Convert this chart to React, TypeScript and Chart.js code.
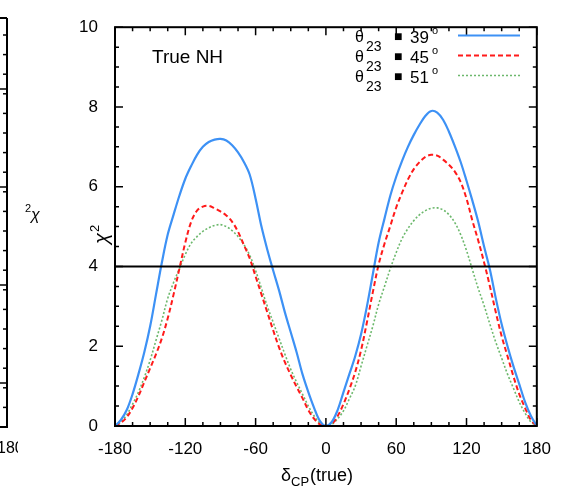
import React, { useEffect, useRef } from 'react';
import { Chart, registerables } from 'chart.js';

Chart.register(...registerables);

// δCP(true) grid in degrees
const DELTA: number[] = [
  -180, -175, -170, -165, -160, -155, -150, -145, -140, -135, -130, -125, -120,
  -115, -110, -105, -100, -95, -90, -85, -80, -75, -70, -65, -60, -55, -50, -45,
  -40, -35, -30, -25, -20, -15, -10, -5, 0, 5, 10, 15, 20, 25, 30, 35, 40, 45,
  50, 55, 60, 65, 70, 75, 80, 85, 90, 95, 100, 105, 110, 115, 120, 125, 130,
  135, 140, 145, 150, 155, 160, 165, 170, 175, 180,
];

// chi^2 for theta23 = 39°
const CHI2_39: number[] = [
  0, 0.15, 0.4, 0.8, 1.3, 1.85, 2.5, 3.3, 4.1, 4.8, 5.3, 5.78, 6.2,
  6.52, 6.8, 7.0, 7.12, 7.18, 7.2, 7.16, 7.04, 6.86, 6.62, 6.3, 5.7, 5.0, 4.42, 3.9,
  3.4, 2.85, 2.35, 1.85, 1.3, 0.85, 0.45, 0.12, 0, 0.1, 0.4, 0.85, 1.3, 1.75, 2.3, 3.0, 3.8, 4.6,
  5.2, 5.78, 6.25, 6.65, 7.0, 7.3, 7.56, 7.78, 7.9, 7.86, 7.68, 7.38, 7.02, 6.62, 6.15, 5.65, 5.12,
  4.5, 3.92, 3.2, 2.55, 2.0, 1.5, 1.05, 0.6, 0.25, 0,
];

// chi^2 for theta23 = 45°
const CHI2_45: number[] = [
  0, 0.08, 0.22, 0.45, 0.75, 1.1, 1.45, 1.8, 2.2, 2.7, 3.3, 3.95, 4.6,
  5.12, 5.4, 5.5, 5.52, 5.46, 5.38, 5.28, 5.12, 4.87, 4.54, 4.2, 3.75, 3.3, 2.85, 2.4,
  1.97, 1.6, 1.28, 0.98, 0.7, 0.4, 0.18, 0.04, 0, 0.05, 0.25, 0.55, 0.92, 1.35, 1.9, 2.6, 3.35, 4.05,
  4.57, 5.02, 5.48, 5.85, 6.18, 6.44, 6.62, 6.75, 6.8, 6.78, 6.68, 6.55, 6.38, 6.12, 5.7, 5.15, 4.65,
  4.1, 3.5, 2.85, 2.25, 1.75, 1.25, 0.8, 0.45, 0.15, 0,
];

// chi^2 for theta23 = 51°
const CHI2_51: number[] = [
  0, 0.1, 0.28, 0.55, 0.85, 1.22, 1.65, 2.15, 2.65, 3.2, 3.6, 3.95, 4.3,
  4.58, 4.75, 4.88, 4.97, 5.03, 5.05, 5.0, 4.9, 4.75, 4.55, 4.28, 3.9, 3.45, 3.0, 2.6,
  2.2, 1.8, 1.42, 1.1, 0.8, 0.5, 0.25, 0.07, 0, 0.04, 0.18, 0.38, 0.68, 1.0, 1.5, 2.0, 2.5, 3.05,
  3.5, 3.95, 4.35, 4.7, 4.95, 5.15, 5.3, 5.4, 5.46, 5.47, 5.42, 5.3, 5.1, 4.8, 4.4, 3.92, 3.45,
  3.02, 2.55, 2.1, 1.7, 1.3, 0.95, 0.6, 0.32, 0.1, 0,
];

const THRESHOLD = 4;
const X_RANGE = [-180, 180];
const Y_RANGE = [0, 10];
const THETA_LABELS = ['39', '45', '51'];
const SERIES_COLORS = ['#3d91f5', '#ff1a1a', '#6cb86c'];
const SERIES_DASH: number[][] = [[], [5, 3], [2, 2]];
const SERIES_WIDTH = [2.2, 2, 1.6];

const FONT = '"Liberation Sans", Arial, sans-serif';

const toPoints = (ys: number[]) => DELTA.map((x, i) => ({ x, y: ys[i] }));

const decorPlugin = {
  id: 'decor',
  afterDraw(chart: any) {
    const { ctx, chartArea: a, scales } = chart;
    const xs = scales.x;
    const ys = scales.y;
    ctx.save();
    ctx.strokeStyle = '#000';
    ctx.fillStyle = '#000';

    // frame
    ctx.lineWidth = 2;
    ctx.strokeRect(a.left, a.top, a.right - a.left, a.bottom - a.top);

    // x ticks (inward, bottom and top)
    ctx.lineWidth = 1.5;
    for (let v = X_RANGE[0]; v <= X_RANGE[1]; v += 15) {
      const px = xs.getPixelForValue(v);
      const len = v % 60 === 0 ? 8 : 4;
      ctx.beginPath();
      ctx.moveTo(px, a.bottom);
      ctx.lineTo(px, a.bottom - len);
      ctx.moveTo(px, a.top);
      ctx.lineTo(px, a.top + len);
      ctx.stroke();
    }
    // y ticks (inward, left and right)
    for (let v = Y_RANGE[0]; v <= Y_RANGE[1] + 1e-9; v += 0.5) {
      const py = ys.getPixelForValue(v);
      const len = Math.abs(v % 2) < 1e-9 ? 8 : 4;
      ctx.beginPath();
      ctx.moveTo(a.left, py);
      ctx.lineTo(a.left + len, py);
      ctx.moveTo(a.right, py);
      ctx.lineTo(a.right - len, py);
      ctx.stroke();
    }

    // "True NH"
    ctx.font = `19px ${FONT}`;
    ctx.textBaseline = 'alphabetic';
    ctx.textAlign = 'left';
    ctx.fillText('True NH', 152, 63);

    // legend
    for (let i = 0; i < THETA_LABELS.length; i++) {
      const cy = 37 + i * 20;
      ctx.fillStyle = '#000';
      ctx.font = `16px ${FONT}`;
      ctx.fillText('θ', 355, cy + 5);
      ctx.font = `14px ${FONT}`;
      ctx.fillText('23', 366, cy + 14);
      ctx.font = `14px ${FONT}`;
      ctx.fillText('■', 394, cy + 4);
      ctx.font = `17px ${FONT}`;
      ctx.fillText(THETA_LABELS[i], 410, cy + 6);
      ctx.font = `11px ${FONT}`;
      ctx.fillText('o', 432, cy - 3);
      ctx.strokeStyle = SERIES_COLORS[i];
      ctx.lineWidth = SERIES_WIDTH[i];
      ctx.setLineDash(SERIES_DASH[i]);
      ctx.beginPath();
      ctx.moveTo(458, cy - 1.5);
      ctx.lineTo(520, cy - 1.5);
      ctx.stroke();
      ctx.setLineDash([]);
    }

    // x-axis title
    ctx.fillStyle = '#000';
    ctx.font = `18px ${FONT}`;
    ctx.fillText('δ', 281, 481);
    ctx.font = `13px ${FONT}`;
    ctx.fillText('CP', 291, 486);
    ctx.font = `18px ${FONT}`;
    ctx.fillText('(true)', 310, 481);

    // y-axis title (rotated)
    ctx.save();
    ctx.translate(108, 244);
    ctx.rotate(-Math.PI / 2);
    ctx.font = `italic 20px ${FONT}`;
    ctx.fillText('χ', 0, 0);
    ctx.font = `13px ${FONT}`;
    ctx.fillText('2', 12, -9);
    ctx.restore();

    // fragment of neighbouring panel at far left
    ctx.strokeStyle = '#000';
    ctx.lineWidth = 2;
    ctx.beginPath();
    ctx.moveTo(7, 18);
    ctx.lineTo(7, 427);
    ctx.lineTo(0, 427);
    ctx.moveTo(7, 18);
    ctx.lineTo(0, 18);
    ctx.stroke();
    ctx.lineWidth = 1.5;
    for (let py = 427; py > 20; py -= 19.6) {
      ctx.beginPath();
      ctx.moveTo(7, py);
      ctx.lineTo(3, py);
      ctx.stroke();
    }
    for (let py = 383; py > 20; py -= 98) {
      ctx.beginPath();
      ctx.moveTo(7, py);
      ctx.lineTo(0, py);
      ctx.stroke();
    }
    ctx.save();
    ctx.beginPath();
    ctx.rect(0, 430, 18, 30);
    ctx.clip();
    ctx.font = `16px ${FONT}`;
    ctx.fillText('180', -3, 453);
    ctx.restore();
    ctx.font = `italic 16px ${FONT}`;
    ctx.fillText('χ', 31, 220);
    ctx.font = `11px ${FONT}`;
    ctx.fillText('2', 25, 212);

    ctx.restore();
  },
};

export default function App() {
  const ref = useRef<HTMLCanvasElement>(null);

  useEffect(() => {
    if (!ref.current) return;
    const mk = (label: string, data: number[], i: number) => ({
      label,
      data: toPoints(data),
      borderColor: SERIES_COLORS[i],
      borderWidth: SERIES_WIDTH[i],
      borderDash: SERIES_DASH[i],
      pointRadius: 0,
      fill: false,
      tension: 0.35,
      order: i + 1,
    });
    const chart = new Chart(ref.current, {
      type: 'line',
      data: {
        datasets: [
          {
            label: 'threshold',
            data: [
              { x: X_RANGE[0], y: THRESHOLD },
              { x: X_RANGE[1], y: THRESHOLD },
            ],
            borderColor: '#000',
            borderWidth: 2,
            pointRadius: 0,
            fill: false,
            order: 0,
          },
          mk('θ23 = 39°', CHI2_39, 0),
          mk('θ23 = 45°', CHI2_45, 1),
          mk('θ23 = 51°', CHI2_51, 2),
        ] as any,
      },
      options: {
        animation: false,
        responsive: false,
        maintainAspectRatio: false,
        layout: { padding: { left: 0, top: 16, right: 19, bottom: 0 } },
        plugins: { legend: { display: false }, tooltip: { enabled: false } },
        scales: {
          x: {
            type: 'linear',
            min: X_RANGE[0],
            max: X_RANGE[1],
            afterFit: (s: any) => {
              s.height = 63;
            },
            grid: { display: false, drawTicks: false },
            border: { display: false },
            ticks: {
              stepSize: 60,
              padding: 13,
              maxRotation: 0,
              autoSkip: false,
              color: '#000',
              font: { family: FONT, size: 17 },
            },
          },
          y: {
            type: 'linear',
            min: Y_RANGE[0],
            max: Y_RANGE[1],
            afterFit: (s: any) => {
              s.width = 115;
            },
            grid: { display: false, drawTicks: false },
            border: { display: false },
            ticks: {
              stepSize: 2,
              padding: 17,
              color: '#000',
              font: { family: FONT, size: 17 },
            },
          },
        },
      },
      plugins: [decorPlugin],
    });
    return () => chart.destroy();
  }, []);

  return (
    <div style={{ position: 'fixed', left: 0, top: 0, width: 564, height: 489, background: '#fff' }}>
      <canvas ref={ref} width={564} height={489} style={{ display: 'block' }} />
    </div>
  );
}
